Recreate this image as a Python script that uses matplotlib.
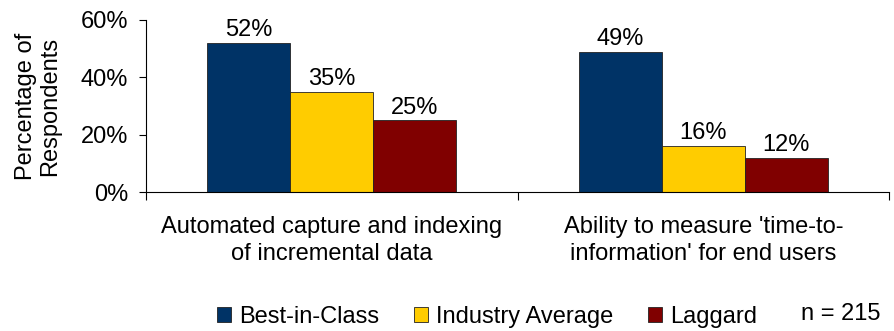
import numpy as np
import matplotlib
matplotlib.use("Agg")
from matplotlib import pyplot as plt
from matplotlib.ticker import FuncFormatter

plt.rcParams['font.family'] = ['Liberation Sans', 'DejaVu Sans']

categories = ["Automated capture and indexing\nof incremental data",
              "Ability to measure 'time-to-\ninformation' for end users"]
series = ["Best-in-Class", "Industry Average", "Laggard"]
best = [52, 49]
industry = [35, 16]
laggard = [25, 12]
values = [best, industry, laggard]
colors = ["#003366", "#FFCC00", "#800000"]

fs = 17

fig = plt.figure(figsize=(8.94, 3.31), dpi=100)
ax = fig.add_axes([146 / 894, 1 - 192 / 331, (889 - 146) / 894, (192 - 20) / 331])

x = np.arange(len(categories))
width = 0.2234
for i, (name, vals, c) in enumerate(zip(series, values, colors)):
    pos = x + (i - 1) * width
    bars = ax.bar(pos, vals, width, color=c, edgecolor="#222222", linewidth=0.6, label=name)
    for b, v in zip(bars, vals):
        ax.text(b.get_x() + b.get_width() / 2, v + 0.6, f"{v}%",
                ha="center", va="bottom", fontsize=fs)

ax.set_xlim(-0.5, 1.5)
ax.set_ylim(0, 60)
ax.set_yticks([0, 20, 40, 60])
ax.yaxis.set_major_formatter(FuncFormatter(lambda v, p: f"{v:.0f}%"))
ax.tick_params(axis="y", labelsize=fs, length=5, width=0.8, pad=8)

# category boundaries as ticks, labels as minor ticks
ax.set_xticks([-0.5, 0.5, 1.5])
ax.set_xticklabels([])
ax.tick_params(axis="x", which="major", length=6, width=0.8)
ax.set_xticks(x, minor=True)
ax.set_xticklabels(categories, minor=True, fontsize=fs, linespacing=1.3)
ax.tick_params(axis="x", which="minor", length=0, pad=17)

for s in ["top", "right"]:
    ax.spines[s].set_visible(False)
ax.spines["left"].set_linewidth(0.8)
ax.spines["bottom"].set_linewidth(0.8)

ax.set_ylabel("Percentage of\nRespondents", fontsize=fs, labelpad=14, linespacing=1.1)

fig.legend(loc="center", bbox_to_anchor=(487 / 894, 1 - 317 / 331), ncol=3,
           frameon=False, fontsize=fs, handlelength=0.6, handleheight=0.6,
           handletextpad=0.35, columnspacing=1.45)
fig.text(801 / 894, 1 - 314 / 331, "n = 215", fontsize=fs, va="center", ha="left")

fig.savefig("out.png", dpi=100)
